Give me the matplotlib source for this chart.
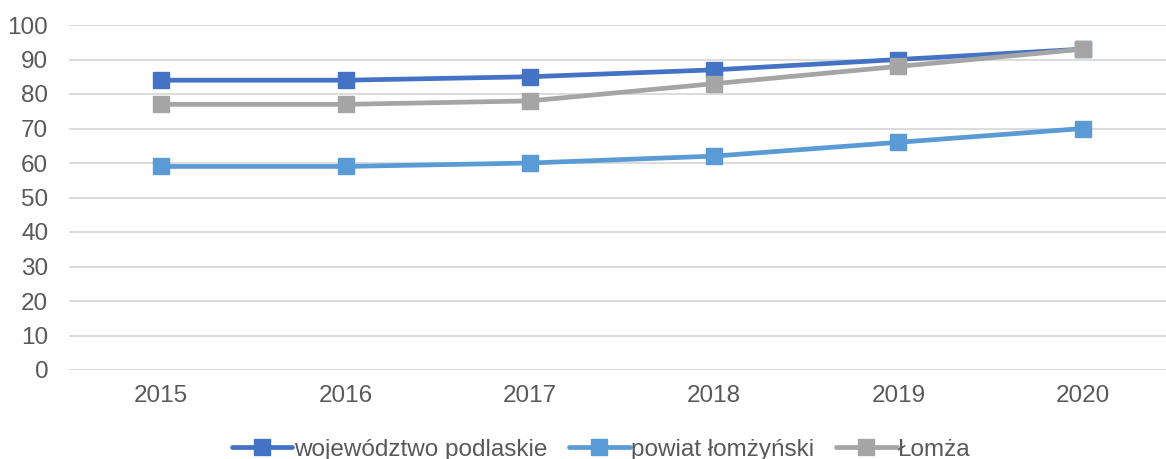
import matplotlib
matplotlib.use("Agg")
import matplotlib.pyplot as plt

years = ["2015", "2016", "2017", "2018", "2019", "2020"]
woj_podlaskie = [84, 84, 85, 87, 90, 93]
powiat_lomzynski = [59, 59, 60, 62, 66, 70]
lomza = [77, 77, 78, 83, 88, 93]
y_ticks = [0, 10, 20, 30, 40, 50, 60, 70, 80, 90, 100]

plt.rcParams['font.family'] = ['Liberation Sans', 'DejaVu Sans']
W, H = 1166, 459
fig = plt.figure(figsize=(W/100, H/100), dpi=100)
ax = fig.add_axes([69/W, 1 - 370/H, 1106/W, 345/H])

x = list(range(len(years)))
series = [
    (woj_podlaskie, "województwo podlaskie", "#4472C4"),
    (powiat_lomzynski, "powiat łomżyński", "#5B9BD5"),
    (lomza, "Łomża", "#A5A5A5"),
]
for vals, name, col in series:
    ax.plot(x, vals, color=col, lw=3.4, marker="s", markersize=11,
            label=name, solid_joinstyle="round", solid_capstyle="round")

ax.set_xlim(-0.5, len(years) - 0.5)
ax.set_ylim(0, 100)
ax.set_yticks(y_ticks)
ax.set_xticks(x)
ax.set_xticklabels(years)
ax.grid(axis="y", color="#D9D9D9", lw=1.3)
ax.set_axisbelow(True)
for s in ax.spines.values():
    s.set_visible(False)
ax.tick_params(axis="both", length=0, labelsize=17.5, colors="#595959")
ax.tick_params(axis="y", pad=15)
ax.tick_params(axis="x", pad=11)

leg = fig.legend(loc="center", bbox_to_anchor=(601/W, 1 - 450/H), ncol=3,
                 frameon=False, fontsize=17.5, handlelength=2.5,
                 handletextpad=0.05, columnspacing=0.9)
for t in leg.get_texts():
    t.set_color("#595959")

fig.savefig("out.png", dpi=100)
